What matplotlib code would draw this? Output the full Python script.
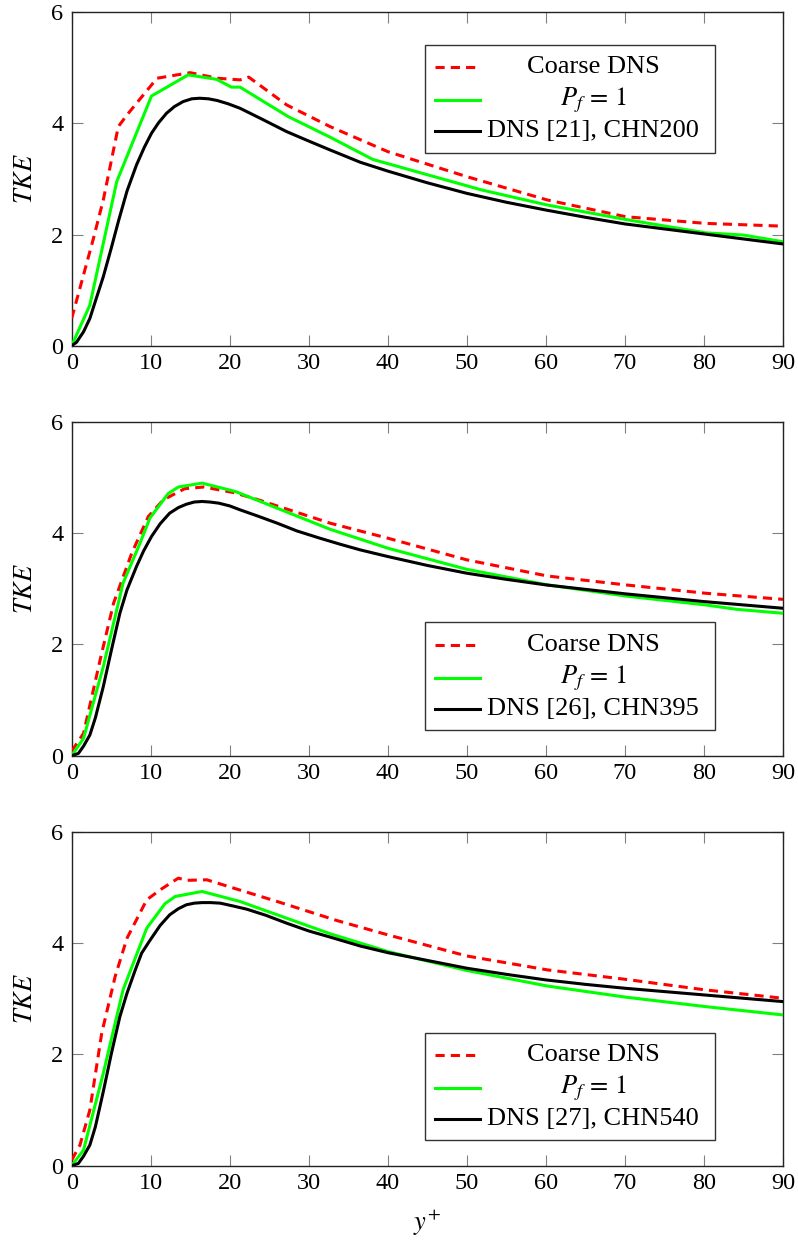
"""TKE profiles near the wall for three channel-flow Reynolds numbers.

Three stacked panels: coarse DNS, P_f = 1 and reference DNS. Writes out.png.
"""

import matplotlib
matplotlib.use("Agg")
import matplotlib.pyplot as plt
from matplotlib.lines import Line2D
from matplotlib.patches import Rectangle

plt.rcParams["font.family"] = "serif"
plt.rcParams["font.serif"] = ["Liberation Serif", "DejaVu Serif"]
plt.rcParams["mathtext.fontset"] = "stix"
plt.rcParams["font.size"] = 17.5

# --- CHN200 ---
coarse200_x = [0, 2.7, 4.0, 5.9, 7.0, 10.8, 15.0, 18.4, 21.3, 22.4, 27.2, 32.7,
               40.0, 50.0, 60.2, 70.1, 80.2, 90.0]
coarse200_y = [0.49, 1.90, 2.62, 3.94, 4.15, 4.81, 4.91, 4.81, 4.78, 4.83, 4.33, 3.94,
               3.49, 3.04, 2.62, 2.32, 2.20, 2.15]
pf200_x = [0, 2.3, 5.7, 10.1, 14.75, 18.35, 20.2, 21.3, 27.4, 32.7, 38.1, 51.9,
           60.2, 70.1, 80.2, 85.0, 90.0]
pf200_y = [0.0, 0.73, 2.95, 4.49, 4.87, 4.79, 4.65, 4.65, 4.12, 3.75, 3.35, 2.80,
           2.53, 2.27, 2.03, 1.99, 1.87]
dns200_x = [0, 0.6, 1.5, 2.3, 3.0, 4.0, 5.0, 5.9, 7.0, 8.2, 9.2, 10.1, 11.0, 12.0,
            13.0, 14.1, 15.2, 16.2, 17.3, 18.4, 19.8, 21.3, 24.0, 27.2, 30.0, 32.7,
            36.5, 40, 45, 50, 55, 60, 65, 70, 75, 80, 85, 90]
dns200_y = [0, 0.06, 0.25, 0.49, 0.80, 1.24, 1.75, 2.23, 2.78, 3.25, 3.57, 3.82, 4.01,
            4.18, 4.30, 4.39, 4.44, 4.45, 4.44, 4.41, 4.35, 4.27, 4.08, 3.85, 3.68,
            3.52, 3.30, 3.14, 2.93, 2.74, 2.58, 2.44, 2.31, 2.19, 2.10, 2.01, 1.92, 1.83]

# --- CHN395 ---
coarse395_x = [0, 1.5, 3.6, 5.3, 7.6, 9.7, 11.6, 14.3, 16.7, 20.5, 23.4, 32.7,
               40, 50, 60.2, 70.1, 80.2, 90]
coarse395_y = [0.08, 0.40, 1.72, 2.74, 3.64, 4.30, 4.60, 4.80, 4.83, 4.73, 4.61, 4.18,
               3.91, 3.52, 3.23, 3.07, 2.92, 2.81]
pf395_x = [0, 1.5, 4.0, 6.5, 8.65, 9.9, 12.2, 13.5, 16.5, 20.7, 32.7, 40, 50,
           60.2, 70.1, 80.2, 84.2, 90]
pf395_y = [0.0, 0.31, 1.60, 3.10, 3.82, 4.27, 4.71, 4.83, 4.90, 4.75, 4.07, 3.73, 3.35,
           3.07, 2.87, 2.71, 2.63, 2.56]
dns395_x = [0, 0.85, 1.5, 2.3, 3.0, 4.0, 5.0, 6.1, 7.0, 8.2, 9.1, 10.1, 11.2, 12.4,
            13.5, 14.5, 15.5, 16.5, 17.5, 18.6, 20.0, 21.3, 23.5, 26.0, 28.5, 31.4,
            34.0, 36.5, 40, 45, 50, 55, 60, 65, 70, 75, 80, 85, 90]
dns395_y = [0, 0.04, 0.17, 0.37, 0.68, 1.24, 1.88, 2.56, 2.98, 3.40, 3.68, 3.94, 4.17,
            4.36, 4.46, 4.52, 4.56, 4.57, 4.56, 4.54, 4.49, 4.42, 4.31, 4.18, 4.04,
            3.91, 3.80, 3.70, 3.58, 3.42, 3.28, 3.17, 3.07, 2.99, 2.91, 2.84, 2.77,
            2.71, 2.65]

# --- CHN540 ---
coarse540_x = [0, 1.05, 2.3, 3.8, 5.5, 7.0, 9.5, 11.2, 13.5, 14.5, 17.1, 20.5, 26.0,
               33.5, 40, 50, 60.2, 70.1, 80.2, 90]
coarse540_y = [0.1, 0.37, 1.0, 2.38, 3.40, 4.09, 4.78, 4.96, 5.17, 5.13, 5.14, 4.99,
               4.75, 4.41, 4.15, 3.77, 3.52, 3.35, 3.16, 3.01]
pf540_x = [0, 1.5, 4.0, 6.5, 9.5, 11.8, 13.1, 16.5, 21.3, 32.7, 40, 50, 60.2, 70.1,
           80.2, 90]
pf540_y = [0.0, 0.28, 1.66, 3.16, 4.27, 4.71, 4.84, 4.93, 4.75, 4.17, 3.85, 3.51,
           3.23, 3.03, 2.86, 2.71]
dns540_x = [0, 0.85, 1.5, 2.3, 3.0, 4.0, 5.0, 6.1, 7.0, 8.0, 8.85, 9.9, 11.2, 12.4,
            13.5, 14.5, 15.5, 16.5, 17.6, 18.8, 20.4, 22.2, 24.6, 27.2, 30.0, 32.7,
            36.5, 40, 45, 50, 55, 60, 65, 70, 75, 80, 85, 90]
dns540_y = [0, 0.04, 0.17, 0.37, 0.70, 1.33, 2.00, 2.68, 3.10, 3.50, 3.82, 4.05, 4.32,
            4.51, 4.62, 4.69, 4.72, 4.73, 4.73, 4.72, 4.67, 4.61, 4.50, 4.36, 4.22,
            4.11, 3.95, 3.83, 3.69, 3.55, 3.44, 3.34, 3.26, 3.19, 3.13, 3.07, 3.01, 2.95]

dns_labels = ["DNS [21], CHN200", "DNS [26], CHN395", "DNS [27], CHN540"]
x_ticks = list(range(0, 91, 10))
y_ticks = [0, 2, 4, 6]

RED = "#ff0000"
GREEN = "#00ff00"
LW = 2.2
TEXT_SIZE = 19


def _legend(ax, dns_label, top):
    """pgfplots-like legend box with centred entry text."""
    x0, x1, h = 0.497, 0.904, 0.323
    ax.add_patch(Rectangle((x0, top - h), x1 - x0, h, transform=ax.transAxes,
                           facecolor="white", edgecolor="#333333", lw=1.0,
                           zorder=5))
    entries = [
        (dict(color=RED, ls=(0, (3, 2)), lw=LW), "Coarse DNS"),
        (dict(color=GREEN, ls="-", lw=LW), "$P_f\\,=\\,1$"),
        (dict(color="black", ls="-", lw=LW), dns_label),
    ]
    for i, (style, text) in enumerate(entries):
        y = top - [0.066, 0.166, 0.258][i]
        x_end = 0.569 if i == 0 else 0.574
        ax.add_line(Line2D([0.511, x_end], [y, y], transform=ax.transAxes,
                           zorder=6, **style))
        ax.text(0.733, y, text, transform=ax.transAxes, ha="center",
                va="center", fontsize=TEXT_SIZE, zorder=6)


def _panel(ax, coarse, pf, dns, dns_label, legend_top):
    ax.plot(*coarse, color=RED, ls=(0, (3, 2)), lw=LW, zorder=3)
    ax.plot(*pf, color=GREEN, lw=LW, zorder=3)
    ax.plot(*dns, color="black", lw=LW, zorder=3)
    ax.set_xlim(0, 90)
    ax.set_ylim(0, 6)
    ax.set_xticks(x_ticks)
    ax.set_yticks(y_ticks)
    ax.tick_params(direction="in", length=8, width=0.8, color="#808080",
                   top=True, right=True, pad=6)
    ax.tick_params(axis="x", pad=5)
    for sp in ax.spines.values():
        sp.set_color("#222222")
        sp.set_linewidth(1.0)
    ax.set_ylabel("$TKE$", fontsize=TEXT_SIZE, labelpad=10)
    _legend(ax, dns_label, legend_top)


fig = plt.figure(figsize=(7.98, 12.41), dpi=100)
left, width, height = 0.0898, 0.8914, 0.2689
ax1 = fig.add_axes([left, 0.7214, width, height])
ax2 = fig.add_axes([left, 0.3911, width, height])
ax3 = fig.add_axes([left, 0.0607, width, height])

_panel(ax1, (coarse200_x, coarse200_y), (pf200_x, pf200_y),
       (dns200_x, dns200_y), dns_labels[0], 0.901)
_panel(ax2, (coarse395_x, coarse395_y), (pf395_x, pf395_y),
       (dns395_x, dns395_y), dns_labels[1], 0.399)
_panel(ax3, (coarse540_x, coarse540_y), (pf540_x, pf540_y),
       (dns540_x, dns540_y), dns_labels[2], 0.399)
ax3.set_xlabel("$y^{+}$", fontsize=TEXT_SIZE, labelpad=10)

fig.savefig("out.png", dpi=100)
